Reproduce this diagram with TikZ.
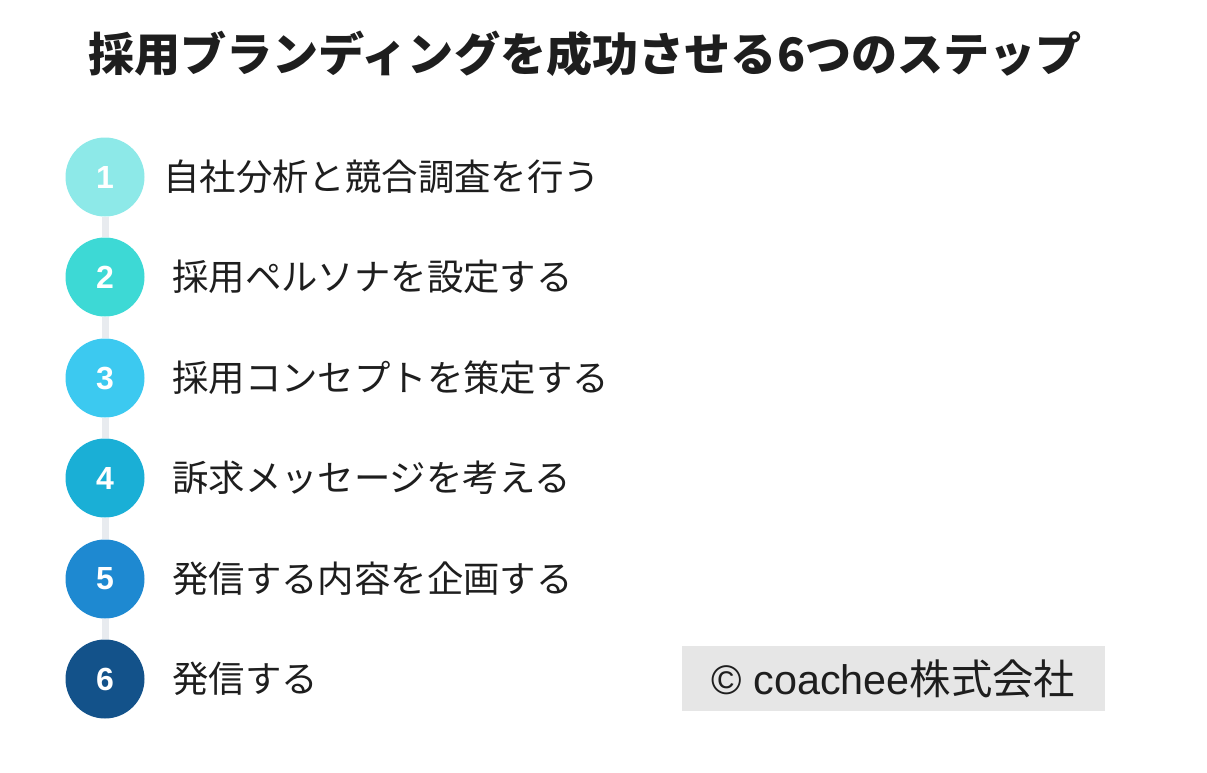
\documentclass[tikz,border=0pt]{standalone}
\usepackage{fontspec}
\setmainfont{Noto Sans CJK JP}
\newfontfamily\numfont{Liberation Sans}
\definecolor{c1}{HTML}{8DE9E8}
\definecolor{c2}{HTML}{3DD9D5}
\definecolor{c3}{HTML}{3CC9F0}
\definecolor{c4}{HTML}{1AAFD6}
\definecolor{c5}{HTML}{1E89D1}
\definecolor{c6}{HTML}{13528A}
\definecolor{linegray}{HTML}{E8EBEF}
\definecolor{boxgray}{HTML}{E6E6E6}
\definecolor{txt}{HTML}{1E1E1E}
\tikzset{
  num/.style={circle,minimum size=79*0.75pt,inner sep=0pt,text=white,font=\numfont\bfseries\fontsize{24}{26}\selectfont},
  item/.style={anchor=west,inner sep=0pt,text=txt,font=\fontsize{27.3}{30}\selectfont},
}
\begin{document}
\begin{tikzpicture}[x=0.75pt,y=-0.75pt]
\useasboundingbox (0,0) rectangle (1207,772);
\node[anchor=west,inner sep=0pt,text=txt,font=\bfseries\fontsize{34.6}{38}\selectfont] (title) at (88,54) {採用ブランディングを成功させる6つのステップ};
\node[num,fill=c1] (n1) at (105,177) {1};
\node[num,fill=c2] (n2) at (105,277) {2};
\node[num,fill=c3] (n3) at (105,378) {3};
\node[num,fill=c4] (n4) at (105,478) {4};
\node[num,fill=c5] (n5) at (105,579) {5};
\node[num,fill=c6] (n6) at (105,679) {6};
\draw[linegray,line width=7*0.75pt] (n1.south) -- (n2.north) (n2.south) -- (n3.north) (n3.south) -- (n4.north) (n4.south) -- (n5.north) (n5.south) -- (n6.north);
\node[item] (t1) at (163,177) {自社分析と競合調査を行う};
\node[item] (t2) at (172,277) {採用ペルソナを設定する};
\node[item] (t3) at (172,378) {採用コンセプトを策定する};
\node[item] (t4) at (172,478) {訴求メッセージを考える};
\node[item] (t5) at (172,579) {発信する内容を企画する};
\node[item] (t6) at (172,679) {発信する};
\node[fill=boxgray,minimum width=423*0.75pt,minimum height=65*0.75pt,inner sep=0pt,text=txt,font=\fontsize{31}{34}\selectfont] (copy) at (893.5,678.5) {{\numfont © coachee}株式会社};
\end{tikzpicture}
\end{document}
